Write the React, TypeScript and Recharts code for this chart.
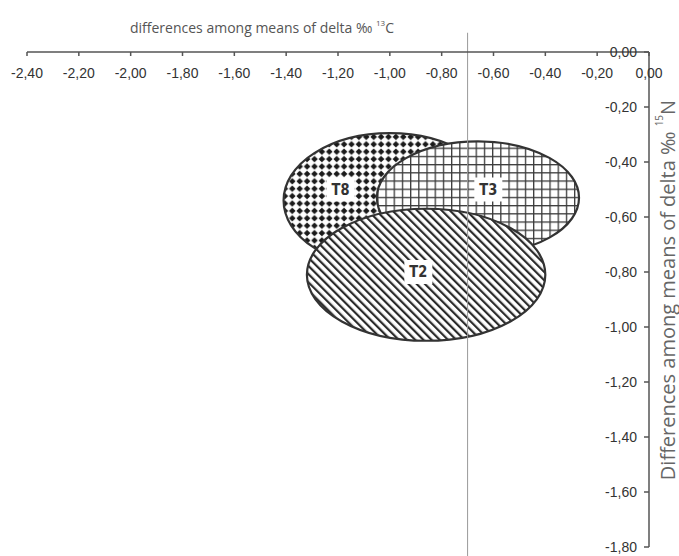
import {
  ScatterChart,
  Scatter,
  XAxis,
  YAxis,
  ReferenceArea,
  ReferenceLine,
} from 'recharts';

// ellipses drawn back to front: T8, then T3, then T2 on top
const groups = ['T8', 'T3', 'T2'];
const centerX = [-1.0, -0.66, -0.86];
const centerY = [-0.54, -0.53, -0.81];
const radiusX = [0.41, 0.39, 0.46];
const radiusY = [0.245, 0.205, 0.24];
const patterns = ['pat-t8', 'pat-t3', 'pat-t2'];

const labelX = [-1.19, -0.62, -0.89];
const labelY = [-0.5, -0.5, -0.8];

const xTicks = [-2.4, -2.2, -2.0, -1.8, -1.6, -1.4, -1.2, -1.0, -0.8, -0.6, -0.4, -0.2, 0];
const yTicks = [0, -0.2, -0.4, -0.6, -0.8, -1.0, -1.2, -1.4, -1.6, -1.8];
const splitX = -0.7;

const labelData = groups.map((name, i) => ({ name, x: labelX[i], y: labelY[i] }));

const fmt = (v: number) => v.toFixed(2).replace('.', ',');

const tickFont = 'Liberation Sans, Arial, sans-serif';
const narrowFont = "'Liberation Sans Narrow', 'DejaVu Sans Condensed', sans-serif";

function PatternDefs() {
  return (
    <defs>
      <pattern id="pat-t8" width={7.4} height={7.4} patternUnits="userSpaceOnUse">
        <rect width={7.4} height={7.4} fill="#fff" />
        <polygon points="3.7,0.4 7.0,3.7 3.7,7.0 0.4,3.7" fill="#1a1a1a" />
      </pattern>
      <pattern id="pat-t3" width={8.2} height={8.2} patternUnits="userSpaceOnUse">
        <rect width={8.2} height={8.2} fill="#fff" />
        <line x1={0.6} y1={0} x2={0.6} y2={8.2} stroke="#3a3a3a" strokeWidth={1.4} />
        <line x1={0} y1={0.6} x2={8.2} y2={0.6} stroke="#3a3a3a" strokeWidth={1.4} />
      </pattern>
      <pattern
        id="pat-t2"
        width={5.8}
        height={5.8}
        patternUnits="userSpaceOnUse"
        patternTransform="rotate(-45)"
      >
        <rect width={5.8} height={5.8} fill="#fff" />
        <line x1={1.1} y1={0} x2={1.1} y2={5.8} stroke="#2a2a2a" strokeWidth={2.2} />
      </pattern>
    </defs>
  );
}

const ellipseShape = (patternId: string, withDefs: boolean) => (props: any) => {
  const { x, y, width, height } = props;
  return (
    <g>
      {withDefs && <PatternDefs />}
      <ellipse
        cx={x + width / 2}
        cy={y + height / 2}
        rx={Math.abs(width) / 2}
        ry={Math.abs(height) / 2}
        fill={`url(#${patternId})`}
        stroke="#333"
        strokeWidth={2.2}
      />
    </g>
  );
};

const LabelShape = (props: any) => {
  const { cx, cy, payload } = props;
  return (
    <g>
      <rect x={cx - 14} y={cy - 12} width={28} height={24} fill="#fff" />
      <text
        x={cx}
        y={cy}
        textAnchor="middle"
        dominantBaseline="central"
        fontFamily={narrowFont}
        fontWeight="bold"
        fontSize={15}
        fill="#333"
        textLength={18}
        lengthAdjust="spacingAndGlyphs"
      >
        {payload.name}
      </text>
    </g>
  );
};

export default function App() {
  return (
    <div style={{ position: 'absolute', left: 0, top: 0, width: 679, height: 556, background: '#fff' }}>
      <ScatterChart
        width={679}
        height={556}
        margin={{ top: 52, right: 30, bottom: 9, left: 27 }}
      >
        <XAxis
          type="number"
          dataKey="x"
          orientation="top"
          mirror
          domain={[-2.4, 0]}
          ticks={xTicks}
          tickFormatter={fmt}
          tickSize={4}
          tickMargin={12}
          allowDataOverflow
          axisLine={{ stroke: '#555', strokeWidth: 1.5 }}
          tickLine={{ stroke: '#555', strokeWidth: 1.5 }}
          tick={{ fontSize: 14, fill: '#333', fontFamily: tickFont }}
        />
        <YAxis
          type="number"
          dataKey="y"
          orientation="right"
          mirror
          domain={[-1.8, 0]}
          ticks={yTicks}
          tickFormatter={fmt}
          tickSize={5}
          tickMargin={7}
          allowDataOverflow
          axisLine={{ stroke: '#555', strokeWidth: 1.5 }}
          tickLine={{ stroke: '#555', strokeWidth: 1.5 }}
          tick={{ fontSize: 14, fill: '#333', fontFamily: tickFont }}
        />
        {groups.map((g, i) => (
          <ReferenceArea
            key={g}
            x1={centerX[i] - radiusX[i]}
            x2={centerX[i] + radiusX[i]}
            y1={centerY[i] - radiusY[i]}
            y2={centerY[i] + radiusY[i]}
            shape={ellipseShape(patterns[i], i === 0)}
          />
        ))}
        <ReferenceLine
          segment={[
            { x: splitX, y: 0.07 },
            { x: splitX, y: -1.84 },
          ]}
          ifOverflow="visible"
          stroke="#999"
          strokeWidth={1}
        />
        <Scatter data={labelData} shape={LabelShape} isAnimationActive={false} />
      </ScatterChart>
      <svg
        width={679}
        height={556}
        style={{ position: 'absolute', left: 0, top: 0, pointerEvents: 'none' }}
      >
        <text
          x={262}
          y={33}
          textAnchor="middle"
          fontFamily="'Open Sans', sans-serif"
          fontSize={14}
          fill="#555"
        >
          differences among means of delta ‰{' '}
          <tspan fontSize={8} dy={-7}>13</tspan>
          <tspan dy={7}>C</tspan>
        </text>
        <text
          transform="translate(667,290) rotate(-90)"
          textAnchor="middle"
          dominantBaseline="central"
          fontFamily="'Open Sans', sans-serif"
          fontSize={20}
          fill="#666"
        >
          Differences among means of delta ‰{' '}
          <tspan fontSize={10} dy={-8}>15</tspan>
          <tspan dy={8}>N</tspan>
        </text>
      </svg>
    </div>
  );
}
